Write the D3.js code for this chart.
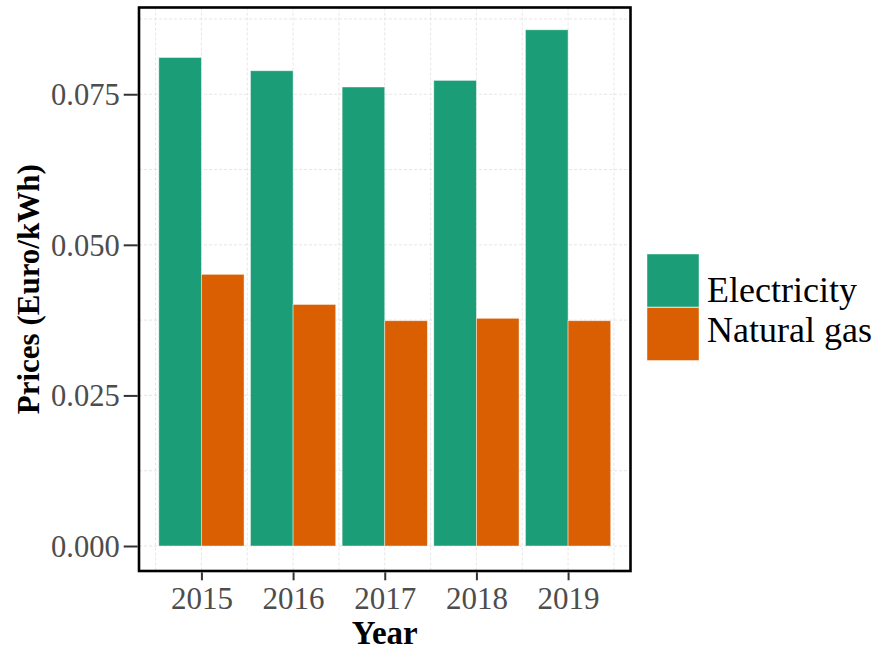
<!DOCTYPE html>
<html>
<head>
<meta charset="utf-8">
<script src="https://cdn.jsdelivr.net/npm/d3@7"></script>
<style>
  html, body { margin: 0; padding: 0; background: #ffffff; }
  svg { display: block; font-family: "Liberation Serif", "Times New Roman", serif; }
</style>
</head>
<body>
<svg id="chart" width="878" height="655"></svg>
<script>
// Energy prices by year (Euro/kWh)
const years = ["2015", "2016", "2017", "2018", "2019"];
const seriesNames = ["Electricity", "Natural gas"];
const electricity = [0.0811, 0.0789, 0.0762, 0.0773, 0.0857];
const naturalGas = [0.0451, 0.0401, 0.0374, 0.0378, 0.0374];
const yTicks = [0, 0.025, 0.05, 0.075];
const yMinorTicks = [0.0125, 0.0375, 0.0625, 0.0875];
const colors = ["#1b9e77", "#d95f02"];

const svg = d3.select("#chart");
const panel = { left: 139, right: 630.5, top: 7.5, bottom: 571 };

const x = d3.scalePoint().domain(years).range([panel.left, panel.right]).padding(0.681);
const step = x.step();
const barW = step * 0.93 / 2;
const y = d3.scaleLinear().domain([-0.00415, 0.0894]).range([panel.bottom, panel.top]);

// grid (major + minor, dashed)
const grid = svg.append("g").attr("stroke", "#e0e0e0").attr("stroke-width", 0.8)
  .attr("stroke-dasharray", "3,2");
yTicks.concat(yMinorTicks).forEach(v => {
  grid.append("line").attr("x1", panel.left).attr("x2", panel.right)
    .attr("y1", y(v)).attr("y2", y(v));
});
const xMinor = [x(years[0]) - step / 2].concat(years.map(yr => x(yr) + step / 2));
years.map(yr => x(yr)).concat(xMinor).forEach(v => {
  grid.append("line").attr("y1", panel.top).attr("y2", panel.bottom)
    .attr("x1", v).attr("x2", v);
});

// bars
const rows = years.map((yr, i) => ({ year: yr, values: [electricity[i], naturalGas[i]] }));
const bars = svg.append("g");
rows.forEach(r => {
  r.values.forEach((v, k) => {
    bars.append("rect")
      .attr("x", x(r.year) - barW + k * barW)
      .attr("width", barW)
      .attr("y", y(v))
      .attr("height", y(0) - y(v))
      .attr("fill", colors[k])
      .attr("stroke", "#ffffff").attr("stroke-opacity", 0.55).attr("stroke-width", 0.8);
  });
});

// panel border
svg.append("rect").attr("x", panel.left).attr("y", panel.top)
  .attr("width", panel.right - panel.left).attr("height", panel.bottom - panel.top)
  .attr("fill", "none").attr("stroke", "#000").attr("stroke-width", 2.6);

// y axis
const yAxis = svg.append("g").attr("transform", `translate(${panel.left - 1.3},0)`)
  .call(d3.axisLeft(y).tickValues(yTicks).tickFormat(d3.format(".3f")).tickSize(14).tickPadding(4));
yAxis.select(".domain").remove();
yAxis.selectAll(".tick line").attr("stroke", "#333").attr("stroke-width", 2);
yAxis.selectAll(".tick text").attr("fill", "#4d4d4d").attr("font-size", 30.5)
  .attr("font-family", "Liberation Serif").attr("dy", "0.34em");

// x axis
const xAxis = svg.append("g").attr("transform", `translate(0,${panel.bottom + 1.3})`)
  .call(d3.axisBottom(x).tickSize(8).tickPadding(7));
xAxis.select(".domain").remove();
xAxis.selectAll(".tick line").attr("stroke", "#333").attr("stroke-width", 2);
xAxis.selectAll(".tick text").attr("fill", "#4d4d4d").attr("font-size", 31)
  .attr("font-family", "Liberation Serif");

// axis titles
svg.append("text").attr("x", (panel.left + panel.right) / 2).attr("y", 644)
  .attr("text-anchor", "middle").attr("font-weight", "bold").attr("font-size", 33)
  .text("Year");
svg.append("text").attr("transform", `translate(39,${(panel.top + panel.bottom) / 2}) rotate(-90)`)
  .attr("text-anchor", "middle").attr("font-weight", "bold").attr("font-size", 31)
  .text("Prices (Euro/kWh)");

// legend
const legend = svg.append("g").attr("transform", "translate(647,254)");
seriesNames.forEach((name, k) => {
  legend.append("rect").attr("x", 0).attr("y", k * 53.5).attr("width", 52).attr("height", 53)
    .attr("fill", colors[k]).attr("stroke", "#ffffff").attr("stroke-opacity", 0.55).attr("stroke-width", 0.8);
  legend.append("text").attr("x", 60).attr("y", 48 + k * 40)
    .attr("font-size", 36).attr("fill", "#000").text(name);
});
</script>
</body>
</html>
